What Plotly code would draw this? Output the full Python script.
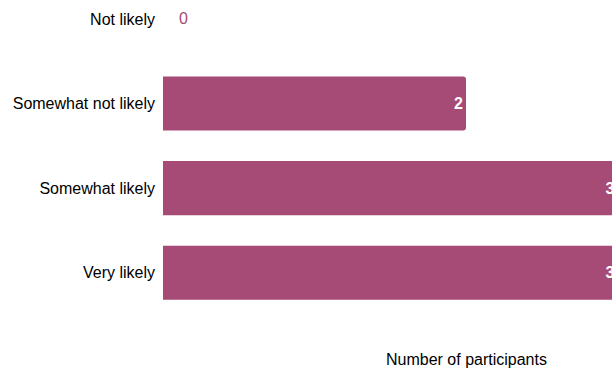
import plotly.graph_objects as go

categories = ["Not likely", "Somewhat not likely", "Somewhat likely", "Very likely"]
counts = [0, 2, 3, 3]
axis_title = "Number of participants"

bar_color = "#a64a76"
font_family = "Liberation Sans, Arial, Helvetica, sans-serif"

texts = [str(v) if v > 0 else "" for v in counts]

fig = go.Figure()
fig.add_trace(go.Bar(
    x=counts,
    y=categories,
    orientation="h",
    marker=dict(color=bar_color, cornerradius=3, line=dict(width=0)),
    width=0.64,
    text=texts,
    textposition="inside",
    insidetextanchor="end",
    textfont=dict(color="white", size=16, family=font_family, weight="bold"),
    hoverinfo="skip",
))

# labels for zero-valued categories (drawn outside the empty bar)
for c, v in zip(categories, counts):
    if v == 0:
        fig.add_annotation(x=v, y=c, xref="x", yref="y", text=str(v),
                           showarrow=False, xanchor="left", xshift=14,
                           font=dict(color=bar_color, size=16, family=font_family))

# x-axis title
fig.add_annotation(x=2, y=0, xref="x", yref="paper", yshift=-44, yanchor="middle",
                   text=axis_title, showarrow=False,
                   font=dict(color="black", size=16, family=font_family))

fig.update_layout(
    width=612, height=370,
    margin=dict(l=163, r=0, t=0, b=55, autoexpand=False),
    paper_bgcolor="white", plot_bgcolor="white",
    showlegend=False,
    font=dict(family=font_family, size=16, color="black"),
    xaxis=dict(range=[0, 449 / 151.5], showticklabels=False, showgrid=False,
               zeroline=False, showline=False, fixedrange=True),
    yaxis=dict(type="category", categoryorder="array", categoryarray=categories,
               range=[3.5, -0.224], showgrid=False, zeroline=False, showline=False,
               ticks="", ticklabelstandoff=7, automargin=False,
               tickfont=dict(size=16, color="black", family=font_family)),
)

fig.write_html("out.html")
